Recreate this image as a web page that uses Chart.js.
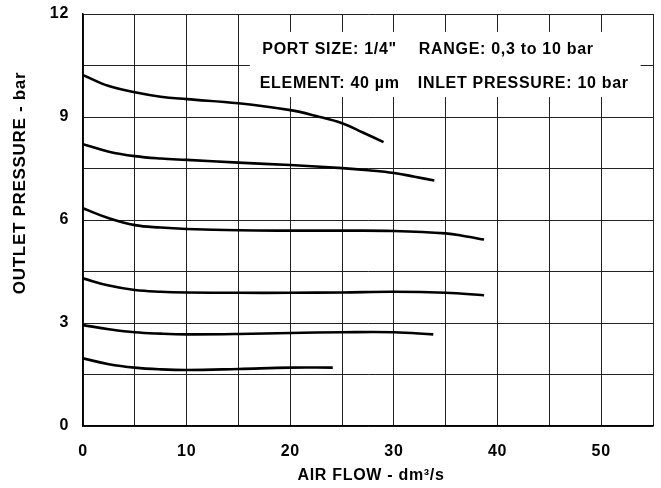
<!DOCTYPE html>
<html>
<head>
<meta charset="utf-8">
<script src="https://cdn.jsdelivr.net/npm/chart.js@4"></script>
<style>
  html, body { margin: 0; padding: 0; background: #fff; }
  canvas { display: block; }
</style>
</head>
<body>
<canvas id="grafico" width="661" height="488"></canvas>
<script>
// curves: flow (dm3/s) vs outlet pressure (bar)
const flow1 = [0, 2.5, 5, 7.5, 10, 15, 20, 22.5, 25, 27, 29];
const pres1 = [10.22, 9.90, 9.72, 9.59, 9.52, 9.40, 9.20, 9.03, 8.82, 8.55, 8.27];
const flow2 = [0, 2.5, 5, 7.5, 10, 15, 20, 25, 27.5, 30, 32, 33.9];
const pres2 = [8.21, 7.99, 7.86, 7.79, 7.75, 7.67, 7.60, 7.51, 7.45, 7.37, 7.26, 7.15];
const flow3 = [0, 2.5, 5, 7.5, 10, 15, 20, 25, 30, 35, 37, 38.7];
const pres3 = [6.34, 6.05, 5.85, 5.78, 5.74, 5.70, 5.69, 5.69, 5.68, 5.61, 5.52, 5.43];
const flow4 = [0, 2.5, 5, 7.5, 10, 15, 20, 25, 30, 35, 38.7];
const pres4 = [4.30, 4.09, 3.96, 3.91, 3.89, 3.88, 3.88, 3.89, 3.91, 3.88, 3.81];
const flow5 = [0, 2.5, 5, 7.5, 10, 15, 20, 25, 30, 33.8];
const pres5 = [2.94, 2.82, 2.73, 2.69, 2.67, 2.68, 2.71, 2.73, 2.73, 2.67];
const flow6 = [0, 2.5, 5, 7.5, 10, 15, 20, 24.1];
const pres6 = [1.97, 1.80, 1.70, 1.65, 1.63, 1.66, 1.70, 1.70];

const xTickLabels = [0, 10, 20, 30, 40, 50];
const yTickLabels = [0, 3, 6, 9, 12];
const xTitle = 'AIR FLOW - dm\u00b3/s';
const yTitle = 'OUTLET PRESSURE - bar';
const notesLine1 = ['PORT SIZE: 1/4"', 'RANGE: 0,3 to 10 bar'];
const notesLine2 = ['ELEMENT: 40 \u00b5m', 'INLET PRESSURE: 10 bar'];

const curvas = [[flow1, pres1], [flow2, pres2], [flow3, pres3], [flow4, pres4], [flow5, pres5], [flow6, pres6]];
const fonte = 'Arial, "Liberation Sans", sans-serif';

function montarPontos(xs, ys) {
    return xs.map((x, i) => ({ x: x, y: ys[i] }));
}

// slightly wider lettering, like the scanned original
const espacamento = {
    id: 'espacamento',
    beforeDraw(chart) { chart.ctx.letterSpacing = '0.7px'; }
};

// white box with the spec text, drawn over the grid
const caixaTexto = {
    id: 'caixaTexto',
    beforeDatasetsDraw(chart) {
        const x = chart.scales.x, y = chart.scales.y;
        const ctx = chart.ctx;
        ctx.save();
        ctx.fillStyle = '#fff';
        const x0 = x.getPixelForValue(16.1), x1 = x.getPixelForValue(53.8);
        const y0 = y.getPixelForValue(11.48), y1 = y.getPixelForValue(9.58);
        ctx.fillRect(x0, y0, x1 - x0, y1 - y0);
        ctx.fillStyle = '#000';
        ctx.font = 'bold 16px ' + fonte;
        ctx.textBaseline = 'middle';
        ctx.textAlign = 'left';
        ctx.fillText(notesLine1[0], x.getPixelForValue(17.3), y.getPixelForValue(10.95));
        ctx.fillText(notesLine1[1], x.getPixelForValue(32.4), y.getPixelForValue(10.95));
        ctx.fillText(notesLine2[0], x.getPixelForValue(17.05), y.getPixelForValue(9.98));
        ctx.fillText(notesLine2[1], x.getPixelForValue(32.3), y.getPixelForValue(9.98));
        ctx.restore();
    }
};

// axis titles (the y one sits above the middle of the axis in the original)
const titulos = {
    id: 'titulos',
    afterDraw(chart) {
        const ctx = chart.ctx;
        const area = chart.chartArea;
        ctx.save();
        ctx.fillStyle = '#000';
        ctx.textAlign = 'center';
        ctx.textBaseline = 'middle';
        ctx.font = 'bold 16px ' + fonte;
        ctx.fillText(xTitle, (area.left + area.right) / 2 + 3, area.bottom + 50);
        ctx.translate(20, area.top + (area.bottom - area.top) * 0.41);
        ctx.rotate(-Math.PI / 2);
        ctx.font = 'bold 17px ' + fonte;
        ctx.fillText(yTitle, 0, 0);
        ctx.restore();
    }
};

const ctx = document.getElementById('grafico').getContext('2d');

new Chart(ctx, {
    type: 'line',
    data: {
        datasets: curvas.map(c => ({
            data: montarPontos(c[0], c[1]),
            borderColor: '#000',
            borderWidth: 2.6,
            pointRadius: 0,
            fill: false,
            tension: 0.4
        }))
    },
    options: {
        responsive: false,
        animation: false,
        layout: { padding: { left: 0, right: 8, top: 14, bottom: 0 } },
        plugins: {
            legend: { display: false },
            tooltip: { enabled: false }
        },
        scales: {
            x: {
                type: 'linear',
                min: 0,
                max: 55,
                afterFit(s) {
                    s.height = 62;
                    s.paddingLeft = 0; s.paddingRight = 0;
                    s.paddingTop = 0; s.paddingBottom = 0;
                },
                border: { color: '#000', width: 1.5 },
                grid: { color: '#222', lineWidth: 1, drawTicks: false },
                ticks: {
                    stepSize: 5,
                    maxRotation: 0,
                    padding: 16,
                    color: '#000',
                    font: { family: fonte, size: 16, weight: 'bold' },
                    callback: v => xTickLabels.includes(v) ? v : ''
                }
            },
            y: {
                min: 0,
                max: 12,
                afterFit(s) {
                    s.width = 83;
                    s.paddingLeft = 0; s.paddingRight = 0;
                    s.paddingTop = 0; s.paddingBottom = 0;
                },
                border: { color: '#000', width: 1.5 },
                grid: { color: '#222', lineWidth: 1, drawTicks: false },
                ticks: {
                    stepSize: 1.5,
                    padding: 14,
                    color: '#000',
                    font: { family: fonte, size: 16, weight: 'bold' },
                    callback: v => yTickLabels.includes(v) ? v : ''
                }
            }
        }
    },
    plugins: [espacamento, caixaTexto, titulos]
});
</script>
</body>
</html>
